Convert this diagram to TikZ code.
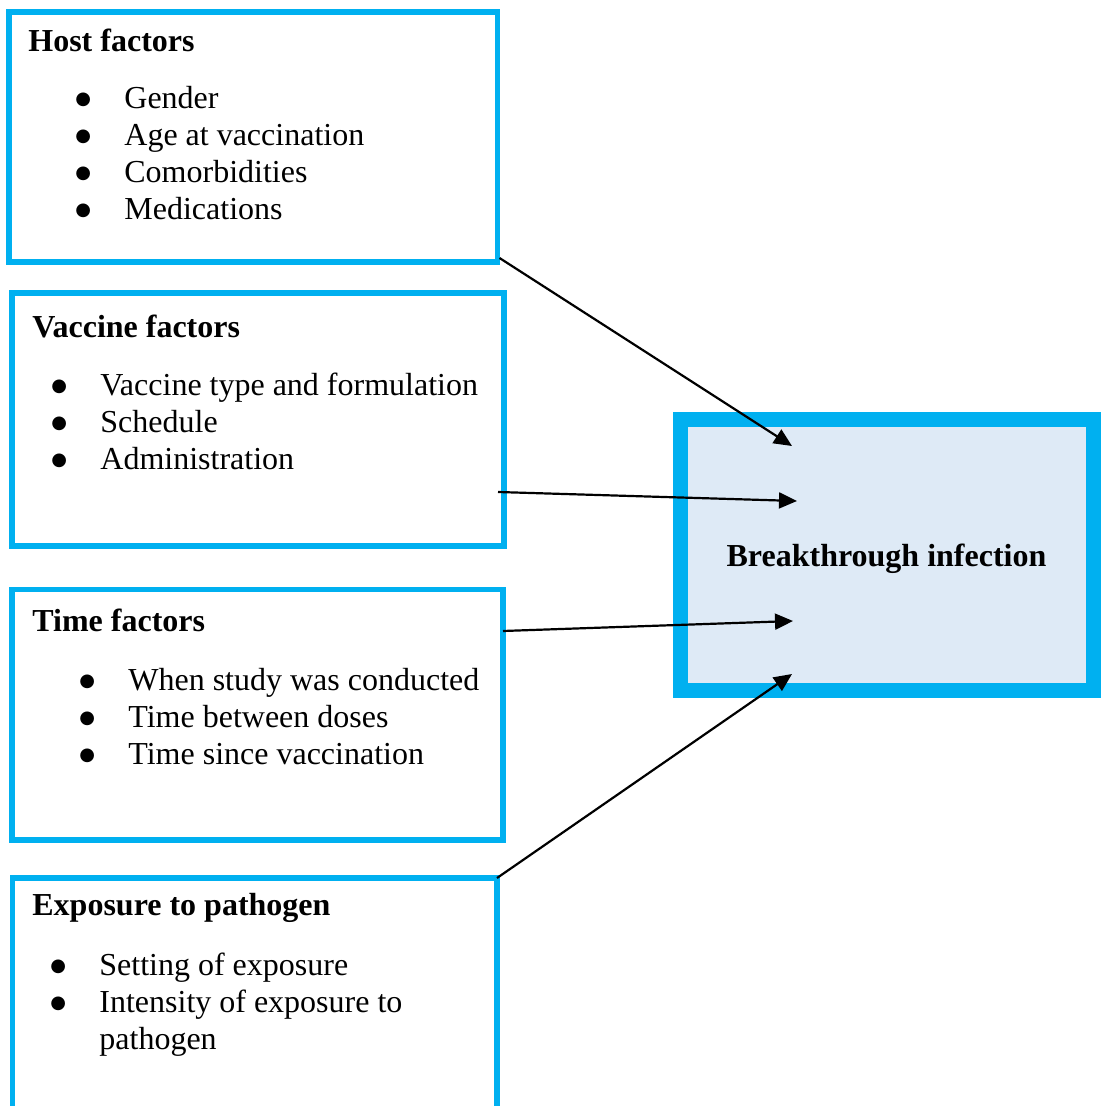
\documentclass[tikz,border=0pt]{standalone}
\usepackage{fontspec}
\setmainfont{Liberation Serif}
\newfontfamily\bulletfont{DejaVu Sans}
\usetikzlibrary{arrows.meta}
\definecolor{boxblue}{HTML}{00B0F0}
\definecolor{boxfill}{HTML}{DEEAF6}
\newcommand{\fitem}[2]{\hspace*{#1}\makebox[24.5pt][l]{\raisebox{2pt}{\bulletfont\fontsize{9}{9}\selectfont ●}}#2}

\begin{document}
\begin{tikzpicture}[x=0.5pt, y=-0.5pt,
    factor/.style={draw=boxblue, line width=2.75pt, inner sep=0pt, outer sep=0pt, anchor=north west},
    factortext/.style={anchor=north west, inner sep=0pt, align=left,
        font=\fontsize{16}{18.5}\selectfont},
    link/.style={-{Triangle[length=9pt,width=8pt]}, line width=1.1pt}]
    \useasboundingbox (0,0) rectangle (1100,1106);

    % factor boxes
    \node[factor, minimum width=244.25pt, minimum height=125pt] (host) at (9,12) {};
    \node[factor, minimum width=246pt, minimum height=126.5pt] (vaccine) at (12,293) {};
    \node[factor, minimum width=245.5pt, minimum height=125.25pt] (time) at (12,589.5) {};
    \node[factor, minimum width=242.25pt, minimum height=120pt] (exposure) at (12.5,878) {};

    \node[factortext] (hosttext) at (28,29) {\textbf{Host factors}\\[10pt]
        \fitem{23.5pt}{Gender}\\
        \fitem{23.5pt}{Age at vaccination}\\
        \fitem{23.5pt}{Comorbidities}\\
        \fitem{23.5pt}{Medications}};
    \node[factortext] (vaccinetext) at (32,315) {\textbf{Vaccine factors}\\[10.5pt]
        \fitem{9.5pt}{Vaccine type and formulation}\\
        \fitem{9.5pt}{Schedule}\\
        \fitem{9.5pt}{Administration}};
    \node[factortext] (timetext) at (32,609) {\textbf{Time factors}\\[11pt]
        \fitem{23.5pt}{When study was conducted}\\
        \fitem{23.5pt}{Time between doses}\\
        \fitem{23.5pt}{Time since vaccination}};
    \node[factortext] (exposuretext) at (32,893) {\textbf{Exposure to pathogen}\\[11.5pt]
        \fitem{9pt}{Setting of exposure}\\
        \fitem{9pt}{Intensity of exposure to}\\
        \hspace*{33.5pt}pathogen};

    % outcome
    \node[draw=boxblue, fill=boxfill, line width=7.5pt, outer sep=0pt, minimum width=206.5pt,
        minimum height=135.5pt, font=\fontsize{16}{18.5}\selectfont\bfseries]
        (infect) at (886.5,554.5) {\raisebox{-2pt}[\height][\depth]{Breakthrough infection}};

    \coordinate (in1) at ([shift={(112,27)}]infect.north west);
    \coordinate (in2) at ([shift={(117,82)}]infect.north west);
    \coordinate (in3) at ([shift={(113,202)}]infect.north west);
    \coordinate (in4) at ([shift={(112,255)}]infect.north west);
    \coordinate (out1) at ([shift={(2,-4)}]host.south east);
    \coordinate (out2) at ([shift={(-6,199)}]vaccine.north east);
    \coordinate (out3) at ([shift={(0,41.5)}]time.north east);

    \draw[link] (out1) -- (in1);
    \draw[link] (out2) -- (in2);
    \draw[link] (out3) -- (in3);
    \draw[link] (exposure.north east) -- (in4);
\end{tikzpicture}
\end{document}
